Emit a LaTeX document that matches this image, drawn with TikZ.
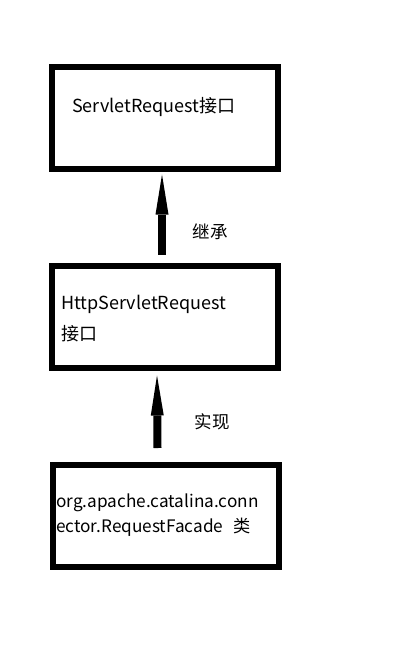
\documentclass[tikz,border=0pt]{standalone}
\usepackage{fontspec}
\setmainfont{Noto Sans CJK SC}
\usetikzlibrary{arrows.meta}
\begin{document}
\begin{tikzpicture}[x=1pt,y=-1pt] % координаты в пикселях, ось y вниз
\tikzstyle{mybox} = [draw, line width=6pt, minimum width=226pt, minimum height=102pt, inner sep=0pt] % рамка
\tikzstyle{mytext} = [anchor=base west, inner sep=0pt, font=\fontsize{18pt}{21pt}\selectfont] % текст в рамке
\tikzstyle{mylabel} = [inner sep=0pt, font=\fontsize{17.5pt}{20pt}\selectfont] % подпись у стрелки
\tikzstyle{myarrow} = [line width=8pt, -{Triangle[length=40pt,width=13pt,line width=0pt]}] % толстая стрелка
\useasboundingbox (0,0) rectangle (419,648);
\node[mybox] (req) at (165,117.5) {}; % ServletRequest
\node[mybox] (http) at (165,316.5) {}; % HttpServletRequest
\node[mybox] (facade) at (165.5,516) {}; % RequestFacade
\node[mytext] (reqtext) at (72,112) {ServletRequest接口};
\node[mytext] (httptext) at (61,309) {HttpServletRequest};
\node[mytext] (httpkind) at (61,340) {接口};
\node[mytext, font=\fontsize{17.2pt}{20pt}\selectfont] (facadetext) at (56,507) {org.apache.catalina.conn};
\node[mytext, font=\fontsize{17.2pt}{20pt}\selectfont] (facadekind) at (56,532) {ector.RequestFacade\hspace{10pt}类};
\draw[myarrow] ([xshift=-3pt,yshift=8pt]http.north) -- ([xshift=-3pt,yshift=-3pt]req.south);
\draw[myarrow] ([xshift=-8pt,yshift=14pt]facade.north) -- ([xshift=-8pt,yshift=-5pt]http.south);
\node[mylabel] (inherit) at (210,232) {继承};
\node[mylabel] (impl) at (212,422) {实现};
\end{tikzpicture}
\end{document}
